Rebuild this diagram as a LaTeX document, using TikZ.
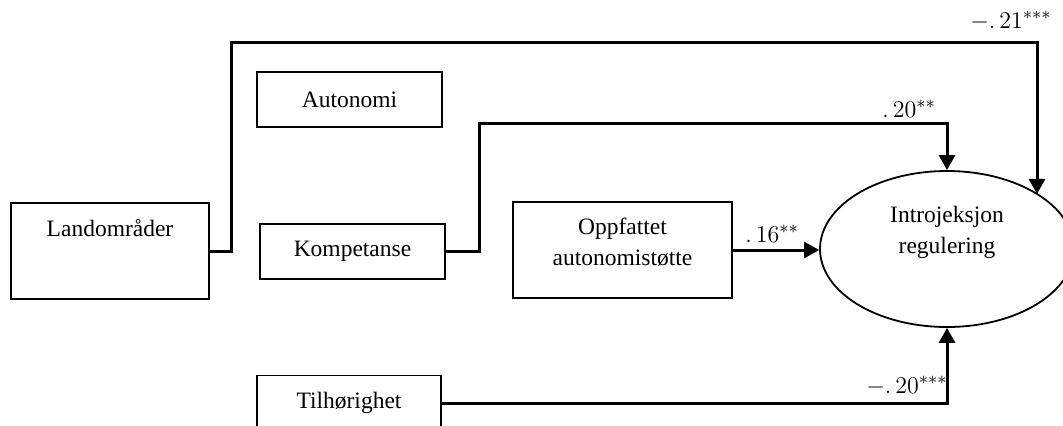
\documentclass[tikz,border=0pt]{standalone}
\usepackage{fontspec}
\setmainfont{Liberation Serif}
\usetikzlibrary{positioning,shapes.geometric,arrows.meta}

\begin{document}
\begin{tikzpicture}[x=0.5pt,y=-0.5pt,
  font=\fontsize{11.75}{15.5}\selectfont,
  box/.style={draw, line width=0.9pt, inner sep=0pt},
  link/.style={line width=1.5pt, -{Triangle[length=7.5pt,width=8pt]}},
  coef/.style={font=\fontsize{12.2}{14}\selectfont}]
  \useasboundingbox (0,0) rectangle (1063,425);

  % Predictors
  \node[box, minimum width=99pt, minimum height=48pt,
        label={[yshift=11.5pt]center:Landområder}] (land) at (110,251) {};
  \node[box, minimum width=92.5pt, minimum height=27.5pt] (auto) at (349.5,99.5) {Autonomi};
  \node[box, minimum width=92.5pt, minimum height=27.5pt] (komp) at (352.5,251.5) {Kompetanse};
  \node[box, minimum width=109.5pt, minimum height=48pt,
        label={[align=center,yshift=3.75pt]center:Oppfattet\\autonomistøtte}] (opp) at (622.5,250) {};
  \node[box, minimum width=92pt, minimum height=27.5pt] (tilh) at (349,403) {Tilhørighet};

  % Outcome
  \node[draw, ellipse, line width=0.9pt, minimum width=127pt, minimum height=78pt, inner sep=0pt,
        label={[align=center,yshift=8.25pt]center:Introjeksjon\\regulering}] (intro) at (947,249) {};

  % Paths
  \coordinate (topR) at (1037,42);
  \coordinate (midR) at (947,123);
  \draw[link] (land.east) -- ++(22,0) |- (topR) -- (topR |- intro.31.4);
  \draw[link] (komp.east) -- ++(34,0) |- (midR) -- (intro.north);
  \draw[link] (opp.east) -- (opp.east -| intro.west);
  \draw[link] (tilh.east) -| (intro.south);

  % Coefficients
  \node[coef] (c21) at (1011,21) {$-.\,21^{***}$};
  \node[coef] (c20a) at (909,109) {$.\,20^{**}$};
  \node[coef] (c16) at (772,234) {$.\,16^{**}$};
  \node[coef] (c20b) at (907,386) {$-.\,20^{***}$};
\end{tikzpicture}
\end{document}
